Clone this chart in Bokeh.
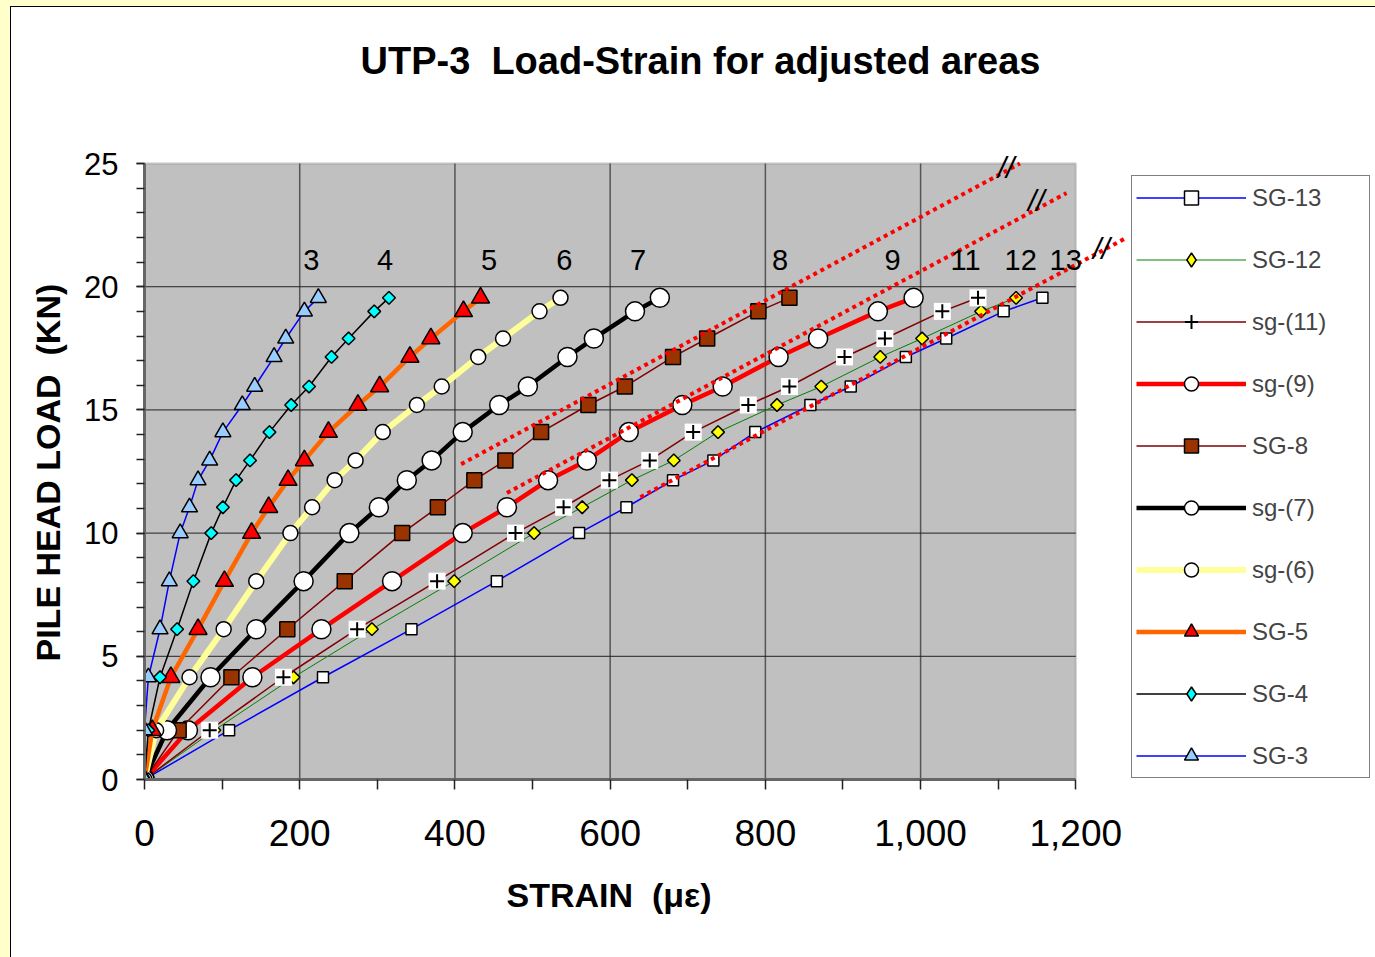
import math
import re
from bokeh.plotting import figure
from bokeh.models import (Range1d, FixedTicker, NumeralTickFormatter, BoxAnnotation,
                          Legend, LegendItem, Title)
from bokeh.core.properties import value
from bokeh.embed import file_html
from bokeh.resources import INLINE

FONT = "Liberation Sans"
NB = "\u00a0"

# ---------------- data ----------------
load_kn = [0, 2.0, 4.15, 6.1, 8.05, 10.0, 11.05, 12.15, 12.95, 14.1, 15.2, 15.95, 17.15, 17.9, 19.0, 19.55]

strain_sg13 = [0, 109, 230, 344, 454, 560, 621, 681, 733, 787, 858, 910, 981, 1033, 1107, 1157]
strain_sg12 = [0, 90, 192, 293, 399, 502, 564, 628, 682, 739, 815, 872, 948, 1002, 1078, 1123]
strain_sg11 = [0, 84, 179, 274, 377, 478, 540, 599, 651, 707, 778, 831, 902, 954, 1028, 1074]
strain_sg9 = [0, 56, 139, 228, 319, 410, 467, 520, 570, 624, 693, 745, 817, 868, 945, 991]
strain_sg8 = [0, 44, 112, 184, 258, 332, 378, 425, 465, 511, 572, 619, 681, 725, 791, 831]
strain_sg7 = [0, 29, 85, 144, 205, 264, 302, 338, 370, 410, 457, 494, 545, 579, 632, 664]
strain_sg6 = [0, 15, 58, 102, 144, 188, 216, 245, 272, 307, 351, 383, 430, 462, 509, 536]
strain_sg5 = [0, 10, 34, 69, 103, 138, 160, 185, 206, 237, 275, 303, 342, 369, 411, 433]
strain_sg4 = [0, 5, 20, 42, 63, 86, 101, 118, 136, 161, 189, 212, 241, 263, 296, 315]
strain_sg3 = [0, 0, 5, 20, 32, 46, 58, 69, 84, 101, 126, 142, 167, 182, 206, 224]

series_names = ["SG-13", "SG-12", "sg-(11)", "sg-(9)", "SG-8", "sg-(7)", "sg-(6)", "SG-5", "SG-4", "SG-3"]

# gauge number labels above the curves
gauge_labels = ["3", "4", "5", "6", "7", "8", "9", "11", "12", "13"]
gauge_label_strain = [215, 310, 444, 541, 636, 819, 964, 1058, 1129, 1187]
gauge_label_load = [21.1] * 10

# red dotted guide lines (strain, load) and their "//" break marks
guide_x0 = [408, 467, 639]
guide_y0 = [12.8, 11.63, 11.46]
guide_x1 = [1128, 1188, 1263]
guide_y1 = [25.0, 23.8, 21.95]
break_x = [1110, 1149, 1233]
break_y = [24.82, 23.51, 21.55]
break_text = ["//", "//", "//"]

x_ticks = [0, 200, 400, 600, 800, 1000, 1200]
x_minor = [100, 300, 500, 700, 900, 1100]
y_ticks = [0, 5, 10, 15, 20, 25]
y_minor = list(range(0, 26))

# ---------------- figure ----------------
p = figure(width=1362, height=948, x_range=Range1d(0, 1581), y_range=Range1d(0, 28.33),
           output_backend="svg", toolbar_location=None,
           min_border_left=132, min_border_right=2, min_border_top=74, min_border_bottom=176)
p.background_fill_color = "white"
p.border_fill_color = "white"
p.outline_line_color = None
p.xgrid.visible = False
p.ygrid.visible = False

# title
p.title.text = "UTP-3" + NB + " Load-Strain for adjusted areas"
p.title.text_font = FONT
p.title.text_font_size = "38px"
p.title.text_font_style = "bold"
p.title.text_color = "black"
p.title.align = "left"
p.title.offset = 216
p.title.standoff = 0

# plot area
p.add_layout(BoxAnnotation(left=x_ticks[0], right=x_ticks[-1], bottom=y_ticks[0], top=y_ticks[-1],
                           fill_color="#C0C0C0", fill_alpha=1.0, line_color="#808080",
                           line_width=2.5, level="underlay"))
grid_x = x_ticks[1:-1]
grid_y = y_ticks[1:-1]
p.segment(x0=grid_x, y0=[y_ticks[0]] * len(grid_x), x1=grid_x, y1=[y_ticks[-1]] * len(grid_x),
          line_color="#555555", line_width=1.5)
p.segment(x0=[x_ticks[0]] * len(grid_y), y0=grid_y, x1=[x_ticks[-1]] * len(grid_y), y1=grid_y,
          line_color="#222222", line_width=1)

# axes
xa = p.xaxis[0]
xa.ticker = FixedTicker(ticks=x_ticks, minor_ticks=x_minor)
xa.bounds = (x_ticks[0], x_ticks[-1])
xa.formatter = NumeralTickFormatter(format="0,0")
xa.axis_line_color = "#666666"
xa.axis_line_width = 3
xa.major_tick_out = 10
xa.minor_tick_out = 10
xa.major_tick_in = 0
xa.minor_tick_in = 0
xa.major_tick_line_color = "#222222"
xa.minor_tick_line_color = "#222222"
xa.major_tick_line_width = 1.5
xa.minor_tick_line_width = 1.5
xa.major_label_text_font = FONT
xa.major_label_text_font_size = "37px"
xa.major_label_text_color = "black"
xa.major_label_standoff = 30

ya = p.yaxis[0]
ya.ticker = FixedTicker(ticks=y_ticks, minor_ticks=y_minor)
ya.bounds = (y_ticks[0], y_ticks[-1])
ya.axis_line_color = "#666666"
ya.axis_line_width = 3
ya.major_tick_out = 8
ya.minor_tick_out = 8
ya.major_tick_in = 0
ya.minor_tick_in = 0
ya.major_tick_line_color = "#222222"
ya.minor_tick_line_color = "#222222"
ya.major_tick_line_width = 1.5
ya.minor_tick_line_width = 1.5
ya.major_label_text_font = FONT
ya.major_label_text_font_size = "31px"
ya.major_label_text_color = "black"
ya.major_label_standoff = 18

# axis titles
p.add_layout(Title(text="PILE HEAD LOAD" + NB + " (KN)", align="left", offset=118, text_font=FONT,
                   text_font_size="34px", text_font_style="bold", text_color="black",
                   standoff=30), "left")
p.add_layout(Title(text="STRAIN" + NB + " (με)", align="left", offset=362, text_font=FONT,
                   text_font_size="34px", text_font_style="bold", text_color="black",
                   standoff=50), "below")

# ---------------- series ----------------
series_strain = [strain_sg13, strain_sg12, strain_sg11, strain_sg9, strain_sg8,
                 strain_sg7, strain_sg6, strain_sg5, strain_sg4, strain_sg3]

styles = [
    dict(lc="#0000FF", lw=1.5, marker="square", size=11, fill="white"),
    dict(lc="#008000", lw=1.0, marker="diamond", size=9, fill="#FFFF00"),
    dict(lc="#800000", lw=1.5, marker="cross", size=14, fill="white"),
    dict(lc="#FF0000", lw=4.5, marker="circle", size=19, fill="white"),
    dict(lc="#800000", lw=1.5, marker="square", size=15, fill="#993300"),
    dict(lc="#000000", lw=4.5, marker="circle", size=19, fill="white"),
    dict(lc="#FFFF99", lw=6.0, marker="circle", size=15, fill="white"),
    dict(lc="#FF6600", lw=4.5, marker="triangle", size=18, fill="#FF0000"),
    dict(lc="#000000", lw=1.5, marker="diamond", size=9, fill="#00FFFF"),
    dict(lc="#0000FF", lw=1.5, marker="triangle", size=16, fill="#99CCFF"),
]

legend_items = []
for name, xs, st in zip(series_names, series_strain, styles):
    rl = p.line(xs, load_kn, line_color=st["lc"], line_width=st["lw"], line_join="round")
    rends = [rl]
    if st["marker"] == "cross":
        rb = p.scatter(xs, load_kn, marker="square", size=17, fill_color="white",
                       line_color=None)
        rc = p.scatter(xs, load_kn, marker="cross", size=st["size"], line_color="black",
                       line_width=2)
        rends += [rb, rc]
    elif st["marker"] == "diamond":
        # legend key (diamond shape), hidden beneath the plotted markers
        rk = p.scatter(xs, load_kn, marker="diamond", size=1, fill_color=st["fill"],
                       line_color="black", line_width=1.5)
        # plotted markers: squares turned by 45 degrees
        p.scatter(xs, load_kn, marker="square", size=st["size"], angle=math.pi / 4,
                  fill_color=st["fill"], line_color="black", line_width=1.5)
        rends.append(rk)
    else:
        rm = p.scatter(xs, load_kn, marker=st["marker"], size=st["size"],
                       fill_color=st["fill"], line_color="black", line_width=1.5)
        rends.append(rm)
    legend_items.append(LegendItem(label=name, renderers=rends))

# guides
p.segment(x0=guide_x0, y0=guide_y0, x1=guide_x1, y1=guide_y1, line_color="#FF0000",
          line_width=4, line_dash="4 4")
p.text(x=break_x, y=break_y, text=break_text, text_font=value(FONT), text_font_size="30px",
       text_font_style="italic", text_align="center", text_baseline="middle", text_color="black")
p.text(x=gauge_label_strain, y=gauge_label_load, text=gauge_labels, text_font=value(FONT),
       text_font_size="29px", text_align="center", text_baseline="middle", text_color="black")

legend = Legend(items=legend_items, location=(987, 1), orientation="vertical",
                border_line_color="black", border_line_width=1, background_fill_color="white",
                background_fill_alpha=1.0, padding=4, spacing=27, glyph_width=110,
                glyph_height=35, label_standoff=6, label_width=113, label_height=35,
                label_text_font=FONT, label_text_font_size="24px", margin=0)
p.add_layout(legend, "center")

html = file_html(p, INLINE, title="UTP-3 Load-Strain")
css = ("<style>html { background: #FFFFCC !important; overflow: hidden !important; } "
       "body { margin: 6px 0 0 10px !important; padding: 0 !important; background: white !important; "
       "border-top: 1px solid #000; border-left: 1px solid #000; box-sizing: border-box !important; "
       "height: calc(100% - 6px) !important; overflow: hidden !important; }"
       "</style>")
html = re.sub(r"</head>", css + "</head>", html, count=1)
open("out.html", "w").write(html)
